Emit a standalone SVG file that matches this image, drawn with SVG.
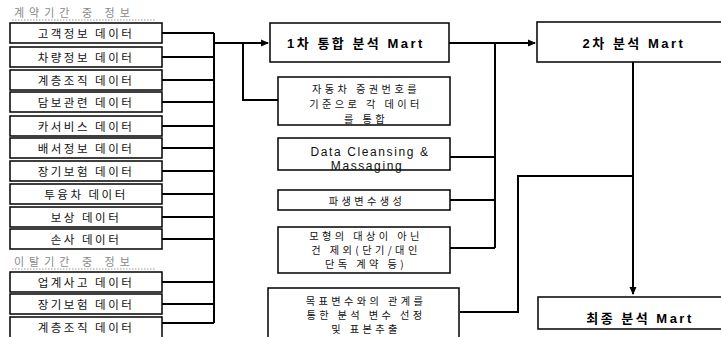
<svg xmlns="http://www.w3.org/2000/svg" width="721" height="337" viewBox="0 0 721 337">
<defs>
<marker id="arr" markerWidth="8" markerHeight="8" refX="7" refY="4" orient="auto" markerUnits="userSpaceOnUse">
<path d="M0,0.5 L8,4 L0,7.5 Z" fill="#000"/>
</marker>
<style>
.box{fill:#fff;stroke:#000;stroke-width:1.5}
.ln{fill:none;stroke:#000;stroke-width:2}
.t{font-family:"Noto Sans CJK KR","Liberation Sans",sans-serif;font-size:11.5px;letter-spacing:2.5px;fill:#111;text-anchor:middle;dominant-baseline:central}
.m{font-family:"Noto Sans CJK KR","Liberation Sans",sans-serif;font-size:10.2px;letter-spacing:3.4px;fill:#111;text-anchor:middle;dominant-baseline:central}
.d{font-family:"Liberation Sans",sans-serif;font-size:12px;letter-spacing:1.6px;fill:#111;text-anchor:middle;dominant-baseline:central}
.b{font-family:"Liberation Sans","Noto Sans CJK KR",sans-serif;font-size:13px;font-weight:bold;letter-spacing:2.5px;fill:#000;text-anchor:middle;dominant-baseline:central}
.h{font-family:"Noto Sans CJK KR",sans-serif;font-size:11px;letter-spacing:5px;fill:#888;dominant-baseline:central}
.hl{stroke:#999;stroke-width:1;stroke-dasharray:1.5 1.5}
</style>
</defs>

<g id="header1"><text class="h" x="14" y="12">계약기간 중 정보</text><line class="hl" x1="12" y1="20" x2="155" y2="20"/></g>
<g id="header2"><text class="h" x="14" y="261">이탈기간 중 정보</text><line class="hl" x1="12" y1="269" x2="155" y2="269"/></g>

<g id="connectors">
<path class="ln" d="M162 33H214M162 57H214M162 80H214M162 102H214M162 126H214M162 148H214M162 171H214M162 194H214M162 217H214M162 239H214M162 282H214M162 304H214M162 323H214M214 33V323"/>
<path class="ln" d="M214 43H268" marker-end="url(#arr)"/>
<path class="ln" d="M278 100H243V43"/>
<path class="ln" d="M449 43H535" marker-end="url(#arr)"/>
<path class="ln" d="M495 43V248M450 157H495M450 200H495M450 248H495"/>
<path class="ln" d="M633 62V294" marker-end="url(#arr)"/>
<path class="ln" d="M460 312H518V176H633"/>
</g>

<g id="n1"><rect class="box" x="10" y="23" width="152" height="20"/><text class="t" x="86" y="33">고객정보 데이터</text></g>
<g id="n2"><rect class="box" x="10" y="47" width="152" height="20"/><text class="t" x="86" y="57">차량정보 데이터</text></g>
<g id="n3"><rect class="box" x="10" y="70" width="152" height="20"/><text class="t" x="86" y="80">계층조직 데이터</text></g>
<g id="n4"><rect class="box" x="10" y="92" width="152" height="20"/><text class="t" x="86" y="102">담보관련 데이터</text></g>
<g id="n5"><rect class="box" x="10" y="116" width="152" height="20"/><text class="t" x="86" y="126">카서비스 데이터</text></g>
<g id="n6"><rect class="box" x="10" y="138" width="152" height="20"/><text class="t" x="86" y="148">배서정보 데이터</text></g>
<g id="n7"><rect class="box" x="10" y="161" width="152" height="20"/><text class="t" x="86" y="171">장기보험 데이터</text></g>
<g id="n8"><rect class="box" x="10" y="184" width="152" height="20"/><text class="t" x="86" y="194">투융차 데이터</text></g>
<g id="n9"><rect class="box" x="10" y="207" width="152" height="20"/><text class="t" x="86" y="217">보상 데이터</text></g>
<g id="n10"><rect class="box" x="10" y="229" width="152" height="20"/><text class="t" x="86" y="239">손사 데이터</text></g>
<g id="n11"><rect class="box" x="10" y="272" width="152" height="20"/><text class="t" x="86" y="282">업계사고 데이터</text></g>
<g id="n12"><rect class="box" x="10" y="294" width="152" height="20"/><text class="t" x="86" y="304">장기보험 데이터</text></g>
<g id="n13"><rect class="box" x="10" y="317" width="152" height="24"/><text class="t" x="86" y="327">계층조직 데이터</text></g>

<g id="mart1"><rect class="box" x="270" y="23" width="179" height="39"/><text class="b" x="356" y="43">1차 통합 분석 Mart</text></g>
<g id="mart2"><rect class="box" x="537" y="22" width="196" height="40"/><text class="b" x="634" y="43">2차 분석 Mart</text></g>
<g id="mart3"><rect class="box" x="538" y="297" width="196" height="32"/><text class="b" x="640" y="318">최종 분석 Mart</text></g>

<g id="p1"><rect class="box" x="278" y="77" width="172" height="48"/>
<text class="m" x="366" y="88">자동차 증권번호를</text><text class="m" x="366" y="103">기준으로 각 데이터</text><text class="m" x="366" y="118">를 통합</text></g>
<g id="p2"><rect class="box" x="278" y="138" width="172" height="32"/>
<text class="d" x="370" y="152">Data Cleansing &amp;</text><text class="d" x="367" y="166">Massaging</text></g>
<g id="p3"><rect class="box" x="278" y="190" width="172" height="20"/><text class="m" x="367" y="200">파생변수생성</text></g>
<g id="p4"><rect class="box" x="278" y="227" width="172" height="46"/>
<text class="m" x="366" y="235">모형의 대상이 아닌</text><text class="m" x="366" y="249">건 제외(단기/대인</text><text class="m" x="366" y="263">단독 계약 등)</text></g>
<g id="p5"><rect class="box" x="268" y="288" width="191" height="55"/>
<text class="m" x="366" y="300">목표변수와의 관계를</text><text class="m" x="366" y="314">통한 분석 변수 선정</text><text class="m" x="366" y="328">및 표본추출</text></g>
</svg>
